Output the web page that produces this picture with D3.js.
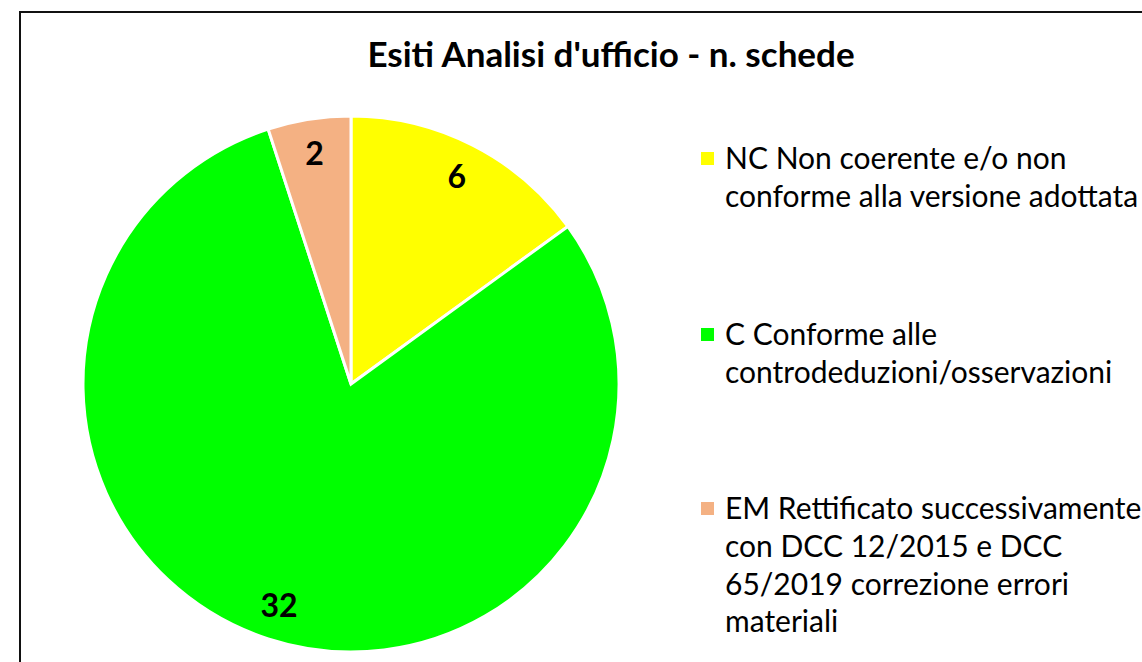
<!DOCTYPE html>
<html>
<head>
<meta charset="utf-8">
<script src="https://cdn.jsdelivr.net/npm/d3@7"></script>
<style>
  body { margin: 0; background: #fff; }
  text { font-family: Lato, "Open Sans", sans-serif; fill: #000; }
</style>
</head>
<body>
<svg id="chart" width="1142" height="662"></svg>
<script>
/** Chart data */
var categories = ['NC', 'C', 'EM'];
var values = [6, 32, 2];
var colors = ['#ffff00', '#00ff00', '#f4b183'];
var legendLines = [
    ['NC Non coerente e/o non', 'conforme alla versione adottata'],
    ['C Conforme alle', 'controdeduzioni/osservazioni'],
    ['EM Rettificato successivamente', 'con DCC 12/2015 e DCC', '65/2019 correzione errori', 'materiali']
];
var title = "Esiti Analisi d'ufficio - n. schede";

var width = 1142,
    height = 662,
    cx = 351,
    cy = 384,
    radius = 268,
    labelRadius = 233;

var svg = d3.select('#chart');

// outer frame
svg.append('rect')
    .attr('x', 20)
    .attr('y', 12)
    .attr('width', width + 20)
    .attr('height', height + 20)
    .style('fill', 'none')
    .style('stroke', '#111')
    .style('stroke-width', 2);

svg.append('text')
    .attr('x', 611)
    .attr('y', 67)
    .attr('text-anchor', 'middle')
    .style('font-size', '35px')
    .style('font-weight', 'bold')
    .text(title);

var pie = d3.pie().sort(null).value(function (d) { return d; });
var arc = d3.arc().innerRadius(0).outerRadius(radius);
var labelArc = d3.arc().innerRadius(labelRadius).outerRadius(labelRadius);

var g = svg.append('g').attr('transform', 'translate(' + cx + ',' + cy + ')');

var slices = g.selectAll('g.slice').data(pie(values))
    .enter()
    .append('g')
    .attr('class', 'slice');

slices.append('path')
    .attr('d', arc)
    .style('fill', function (d, i) { return colors[i]; })
    .style('stroke', '#fff')
    .style('stroke-width', 3);

slices.append('text')
    .attr('transform', function (d) { return 'translate(' + labelArc.centroid(d) + ')'; })
    .attr('text-anchor', 'middle')
    .attr('dy', '0.36em')
    .style('font-size', '32px')
    .style('font-weight', 'bold')
    .text(function (d) { return d.value; });

//legend
var legendX = 701,
    legendTop = [152, 328, 502],
    lineStep = 37.7;

var legend = svg.selectAll('g.legend').data(categories)
    .enter()
    .append('g')
    .attr('class', 'legend')
    .attr('transform', function (d, i) { return 'translate(' + legendX + ',' + legendTop[i] + ')'; });

legend.append('rect')
    .attr('width', 13)
    .attr('height', 13)
    .style('fill', function (d, i) { return colors[i]; });

legend.append('text')
    .attr('x', 24)
    .attr('y', 6.5)
    .style('font-size', '30px')
    .selectAll('tspan')
    .data(function (d, i) { return legendLines[i]; })
    .enter()
    .append('tspan')
    .attr('x', 24)
    .attr('dy', function (d, j) { return j === 0 ? '0.36em' : lineStep; })
    .text(function (d) { return d; });
</script>
</body>
</html>
